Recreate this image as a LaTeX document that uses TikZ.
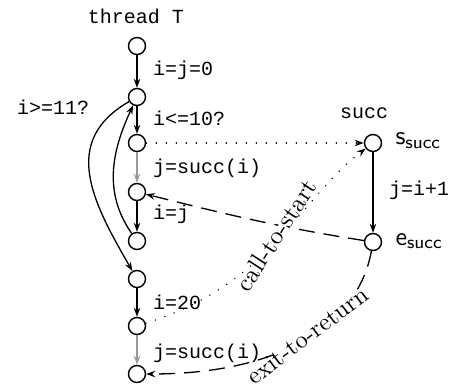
\documentclass[tikz,border=0pt]{standalone}
\usepackage{fontspec}
\setmonofont{Liberation Mono}
\usetikzlibrary{arrows.meta}
\begin{document}
\begin{tikzpicture}[x=1pt,y=-1pt,
  state/.style={circle,draw,line width=1.4pt,inner sep=0pt,minimum size=17pt},
  code/.style={font=\fontsize{20}{24}\selectfont\ttfamily,inner sep=0pt},
  rmlab/.style={font=\fontsize{10}{12}\selectfont\rmfamily,fill=white,inner sep=0pt,text height=1.1ex,text depth=0pt},
  sflab/.style={font=\fontsize{10}{12}\selectfont\sffamily,scale=2.6,inner sep=0pt},
  arr/.style={line width=1.3pt,-{Stealth[length=9pt,width=6.5pt,inset=3pt]}},
  grayarr/.style={arr,draw=black!40,fill=black!40},
  dotarr/.style={arr,line cap=round,dash pattern=on 0.3pt off 9.7pt},
  dasharr/.style={arr,dash pattern=on 16pt off 9pt},
]
\useasboundingbox (0,0) rectangle (462,390);
% thread T
\node[state] (n0) at (137,46) {};
\node[state] (n1) at (137,97) {};
\node[state] (n2) at (137,143) {};
\node[state] (n3) at (137,192) {};
\node[state] (n4) at (137,241) {};
\node[state] (n5) at (137,279) {};
\node[state] (n6) at (137,326) {};
\node[state] (n7) at (137,374) {};
% succ
\node[state] (s) at (373,143) {};
\node[state] (e) at (373,242) {};

\node[code,anchor=base] (tT) at (136,24) {thread T};
\node[code,anchor=base] (tS) at (364,119) {succ};
\node[sflab,anchor=base west] (ls) at (395,145) {s\textsubscript{succ}};
\node[sflab,anchor=base west] (le) at (395,245) {e\textsubscript{succ}};

% labels
\node[code,anchor=base west] (l01) at (153,76) {i=j=0};
\node[code,anchor=base west] (l12) at (153,126) {i<=10?};
\node[code,anchor=base west] (l23) at (153,173) {j=succ(i)};
\node[code,anchor=base west] (l34) at (153,219) {i=j};
\node[code,anchor=base west] (l56) at (153,309) {i=20};
\node[code,anchor=base west] (l67) at (153,358) {j=succ(i)};
\node[code,anchor=base west] (lge) at (17,115) {i>=11?};
\node[code,anchor=base west] (lse) at (389,195) {j=i+1};

% edges
\draw[arr] (n0) -- (n1);
\draw[arr] (n1) -- (n2);
\draw[grayarr] (n2) -- (n3);
\draw[arr] (n3) -- (n4);
\draw[arr] (n5) -- (n6);
\draw[grayarr] (n6) -- (n7);
\draw[arr] (s) -- (e);
\draw[arr] (n4) to[out=125,in=-115] (n1);
\draw[arr] (n1) to[out=210,in=120,looseness=1.2] (n5);

\draw[dotarr] (n2) -- (s);
\draw[dasharr] (e) to[out=171,in=-14] (n3);
\draw[dotarr] (n6) .. controls (271,284) and (300,198) .. (s);
\draw[dasharr] (e) .. controls (358,325) and (280,374) .. (n7);

\node[rmlab,scale=2.5,rotate=57,anchor=base west] (lcall) at (248,294) {call-to-start};
\node[rmlab,scale=2.45,rotate=37,anchor=base west] (lexit) at (254,386) {exit-to-return};
\end{tikzpicture}
\end{document}
